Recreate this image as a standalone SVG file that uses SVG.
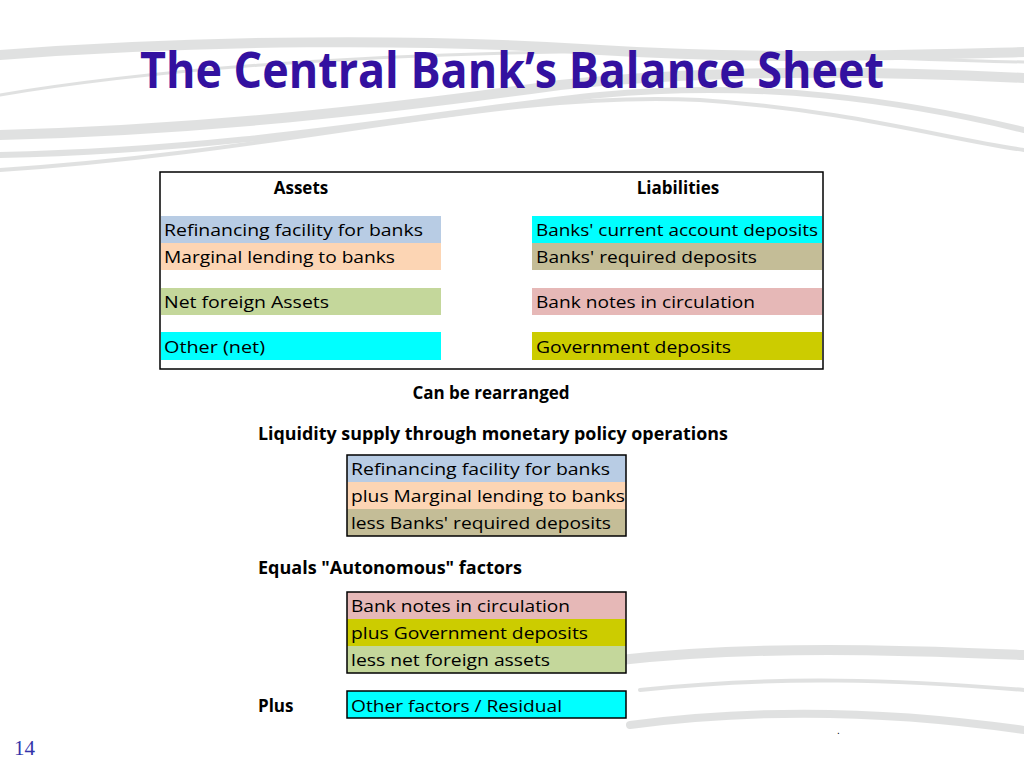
<svg xmlns="http://www.w3.org/2000/svg" width="1024" height="768" viewBox="0 0 1024 768">
<style>
.t{font-family:"Open Sans","Liberation Sans",sans-serif;font-size:17px;fill:#000}
.b{font-family:"Open Sans","Liberation Sans",sans-serif;font-size:17px;font-weight:bold;fill:#000}
.sw{fill:none;stroke:#c8cac9;stroke-linecap:round}
</style>
<rect width="1024" height="768" fill="#fff"/>
<g id="decor" opacity="0.55">
<path class="sw" stroke-width="10" d="M0,55 C200,40 420,38 600,50 C760,60 900,55 1024,52"/>
<path class="sw" stroke-width="3" d="M0,95 C150,70 350,55 560,52 C760,50 900,60 1024,62"/>
<path class="sw" stroke-width="10" d="M0,135 C200,130 380,110 560,85 C700,70 860,70 1024,78"/>
<path class="sw" stroke-width="6" d="M0,155 C250,150 450,110 600,95 C760,80 900,100 1024,130"/>
<path class="sw" stroke-width="4" d="M0,170 C300,150 500,90 700,100 C850,110 950,140 1024,150"/>
<path class="sw" stroke-width="10" d="M620,660 C760,645 900,650 1024,655"/>
<path class="sw" stroke-width="4" d="M640,690 C780,675 900,680 1024,690"/>
<path class="sw" stroke-width="8" d="M630,725 C780,705 920,715 1024,730"/>
</g>
<text x="512" y="88" text-anchor="middle" font-family="'Open Sans','Liberation Sans',sans-serif" font-weight="bold" font-size="50" fill="#3311a0" textLength="744" lengthAdjust="spacingAndGlyphs">The Central Bank’s Balance Sheet</text>
<g id="balance">
<rect x="160" y="172" width="663" height="197" fill="#fff" stroke="#000" stroke-width="1.5"/>
<text class="b" x="301" y="194" text-anchor="middle">Assets</text>
<text class="b" x="678" y="194" text-anchor="middle">Liabilities</text>
<rect x="161" y="216" width="280" height="27" fill="#b8cce4"/>
<rect x="161" y="243" width="280" height="27" fill="#fcd5b4"/>
<rect x="161" y="288" width="280" height="27" fill="#c4d79b"/>
<rect x="161" y="332" width="280" height="28" fill="#00ffff"/>
<rect x="532" y="216" width="290" height="27" fill="#00ffff"/>
<rect x="532" y="243" width="290" height="27" fill="#c4bd97"/>
<rect x="532" y="288" width="290" height="27" fill="#e6b8b7"/>
<rect x="532" y="332" width="290" height="28" fill="#cccc00"/>
<text class="t" x="164" y="236" textLength="259" lengthAdjust="spacingAndGlyphs">Refinancing facility for banks</text>
<text class="t" x="164" y="263" textLength="231" lengthAdjust="spacingAndGlyphs">Marginal lending to banks</text>
<text class="t" x="164" y="308" textLength="165" lengthAdjust="spacingAndGlyphs">Net foreign Assets</text>
<text class="t" x="164" y="353" textLength="101" lengthAdjust="spacingAndGlyphs">Other (net)</text>
<text class="t" x="536" y="236" textLength="282" lengthAdjust="spacingAndGlyphs">Banks' current account deposits</text>
<text class="t" x="536" y="263" textLength="221" lengthAdjust="spacingAndGlyphs">Banks' required deposits</text>
<text class="t" x="536" y="308" textLength="219" lengthAdjust="spacingAndGlyphs">Bank notes in circulation</text>
<text class="t" x="536" y="353" textLength="195" lengthAdjust="spacingAndGlyphs">Government deposits</text>
</g>
<text class="b" x="491" y="399" text-anchor="middle">Can be rearranged</text>
<text class="b" x="258" y="440" textLength="470" lengthAdjust="spacingAndGlyphs">Liquidity supply through monetary policy operations</text>
<g id="liquidity">
<rect x="347" y="455" width="279" height="27" fill="#b8cce4"/>
<rect x="347" y="482" width="279" height="27" fill="#fcd5b4"/>
<rect x="347" y="509" width="279" height="27" fill="#c4bd97"/>
<rect x="347" y="455" width="279" height="81" fill="none" stroke="#000" stroke-width="1.5"/>
<text class="t" x="351" y="475" textLength="259" lengthAdjust="spacingAndGlyphs">Refinancing facility for banks</text>
<text class="t" x="351" y="502" textLength="274" lengthAdjust="spacingAndGlyphs">plus Marginal lending to banks</text>
<text class="t" x="351" y="529" textLength="260" lengthAdjust="spacingAndGlyphs">less Banks' required deposits</text>
</g>
<text class="b" x="258" y="574" textLength="264" lengthAdjust="spacingAndGlyphs">Equals "Autonomous" factors</text>
<g id="autonomous">
<rect x="347" y="592" width="279" height="27" fill="#e6b8b7"/>
<rect x="347" y="619" width="279" height="27" fill="#cccc00"/>
<rect x="347" y="646" width="279" height="27" fill="#c4d79b"/>
<rect x="347" y="592" width="279" height="81" fill="none" stroke="#000" stroke-width="1.5"/>
<text class="t" x="351" y="612" textLength="219" lengthAdjust="spacingAndGlyphs">Bank notes in circulation</text>
<text class="t" x="351" y="639" textLength="237" lengthAdjust="spacingAndGlyphs">plus Government deposits</text>
<text class="t" x="351" y="666" textLength="199" lengthAdjust="spacingAndGlyphs">less net foreign assets</text>
</g>
<text class="b" x="258" y="712">Plus</text>
<g id="other">
<rect x="347" y="691" width="279" height="27" fill="#00ffff" stroke="#000" stroke-width="1.5"/>
<text class="t" x="351" y="712" textLength="211" lengthAdjust="spacingAndGlyphs">Other factors / Residual</text>
</g>
<text x="837" y="734" font-family="'Liberation Sans',sans-serif" font-size="10">.</text>
<text x="14" y="755" font-family="'Liberation Serif',serif" font-size="21" fill="#3333aa">14</text>
</svg>
